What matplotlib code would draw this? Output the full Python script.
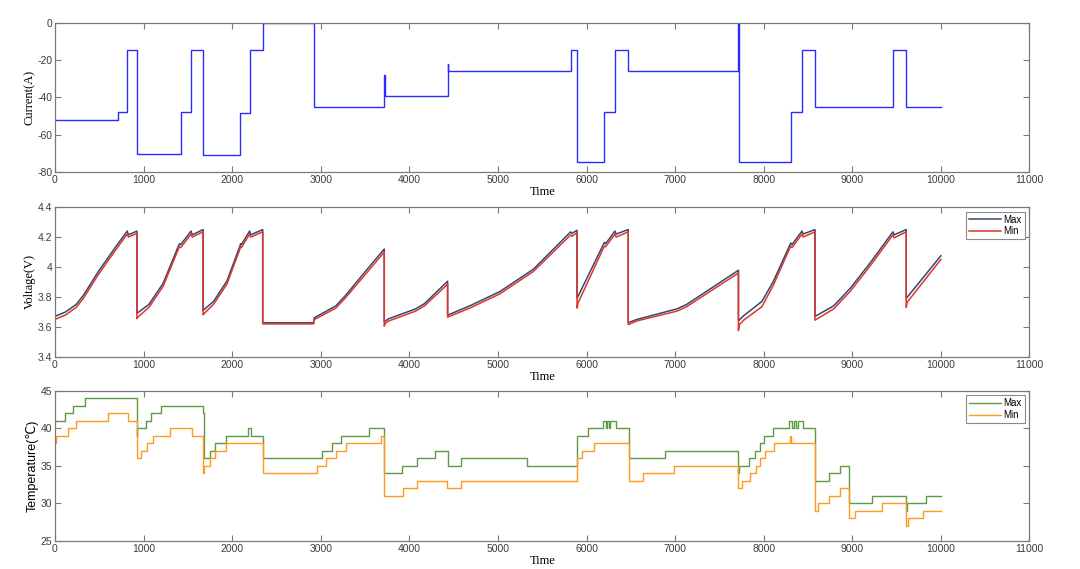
import numpy as np
import matplotlib
matplotlib.use("Agg")
import matplotlib.pyplot as plt

plt.rcParams["axes.unicode_minus"] = False

# ---- дані: струм (ступінчастий сигнал) ----
current_t = [0, 710, 816, 925, 1419, 1536, 1672, 2088, 2197, 2345, 2920,
             3717, 3722, 4432, 4437, 5822, 5893, 6202, 6321, 6471, 7715,
             7718, 8306, 8433, 8579, 9459, 9609, 10000]
current_a = [-52, -48, -14.5, -70.5, -48, -14.5, -71, -48.5, -14.5, 0, -45,
             -28, -39, -22, -26, -14.5, -74.5, -48, -14.5, -26, 0,
             -74.5, -48, -14.5, -45, -14.5, -45, -45]

# ---- напруга ----
vmax_t = [0, 120, 240, 320, 490, 680, 816, 830, 925, 925,
          1060, 1220, 1390, 1405, 1420, 1536, 1550, 1672, 1672,
          1790, 1940, 2088, 2095, 2105, 2197, 2210, 2345, 2345,
          2920, 2925, 3170, 3280, 3510, 3717, 3717,
          3770, 4070, 4170, 4432, 4432,
          4680, 5020, 5400, 5822, 5835, 5893, 5893,
          6190, 6202, 6215, 6321, 6335, 6471, 6471,
          6570, 7020, 7130, 7715, 7715,
          7775, 7980, 8110, 8290, 8306, 8320, 8433, 8445, 8579, 8579,
          8790, 8980, 9205, 9459, 9472, 9609, 9609, 10000]
vmax_v = [3.67, 3.70, 3.75, 3.81, 3.97, 4.13, 4.24, 4.215, 4.24, 3.69,
          3.75, 3.89, 4.135, 4.155, 4.15, 4.24, 4.215, 4.25, 3.71,
          3.77, 3.905, 4.14, 4.155, 4.15, 4.24, 4.215, 4.25, 3.627,
          3.627, 3.66, 3.74, 3.81, 3.975, 4.12, 3.635,
          3.655, 3.72, 3.755, 3.905, 3.678,
          3.74, 3.835, 3.985, 4.235, 4.225, 4.245, 3.79,
          4.15, 4.165, 4.155, 4.24, 4.22, 4.25, 3.628,
          3.65, 3.72, 3.75, 3.978, 3.64,
          3.675, 3.77, 3.905, 4.14, 4.16, 4.15, 4.24, 4.22, 4.25, 3.67,
          3.74, 3.86, 4.03, 4.235, 4.215, 4.25, 3.79, 4.075]

vmin_t = [0, 120, 240, 320, 490, 680, 816, 830, 925, 925, 935,
          1060, 1220, 1390, 1405, 1420, 1536, 1550, 1672, 1672, 1685,
          1790, 1940, 2088, 2095, 2105, 2197, 2210, 2345, 2345,
          2920, 2925, 3170, 3280, 3510, 3717, 3717, 3730,
          3770, 4070, 4170, 4432, 4432,
          4680, 5020, 5400, 5822, 5835, 5893, 5893, 5905,
          6190, 6202, 6215, 6321, 6335, 6471, 6471,
          6570, 7020, 7130, 7715, 7715, 7725,
          7775, 7980, 8110, 8290, 8306, 8320, 8433, 8445, 8579, 8579,
          8790, 8980, 9205, 9459, 9472, 9609, 9609, 9620, 10000]
vmin_v = [3.65, 3.68, 3.73, 3.79, 3.95, 4.11, 4.22, 4.20, 4.225, 3.655, 3.665,
          3.73, 3.87, 4.115, 4.135, 4.13, 4.22, 4.20, 4.235, 3.68, 3.69,
          3.75, 3.885, 4.12, 4.135, 4.13, 4.22, 4.20, 4.235, 3.62,
          3.62, 3.648, 3.725, 3.795, 3.955, 4.10, 3.605, 3.625,
          3.64, 3.705, 3.74, 3.885, 3.665,
          3.725, 3.82, 3.97, 4.215, 4.205, 4.23, 3.725, 3.76,
          4.125, 4.14, 4.135, 4.22, 4.20, 4.235, 3.615,
          3.64, 3.705, 3.735, 3.96, 3.575, 3.615,
          3.645, 3.735, 3.88, 4.12, 4.14, 4.13, 4.22, 4.20, 4.235, 3.645,
          3.72, 3.84, 4.01, 4.215, 4.195, 4.235, 3.73, 3.765, 4.05]

# ---- температура ----
tmax_t = [0, 109, 206, 338, 925, 930, 1022, 1089, 1198, 1672, 1682, 1750,
          1808, 1936, 2177, 2209, 2345, 3013, 3130, 3227, 3546, 3717, 3919,
          4083, 4285, 4432, 4580, 5327, 5893, 6020, 6186, 6220, 6235, 6255,
          6270, 6337, 6475, 6883, 7715, 7725, 7837, 7897, 7956, 8008, 8107,
          8281, 8325, 8340, 8365, 8385, 8447, 8577, 8732, 8859, 8962, 9227,
          9612, 9620, 9834, 10000]
tmax_c = [41, 42, 43, 44, 39, 40, 41, 42, 43, 42, 36, 37,
          38, 39, 40, 39, 36, 37, 38, 39, 40, 34, 35,
          36, 37, 35, 36, 35, 39, 40, 41, 40, 41, 40,
          41, 40, 36, 37, 34, 35, 36, 37, 38, 39, 40,
          41, 40, 41, 40, 41, 40, 33, 34, 35, 30, 31,
          29, 30, 31, 31]

tmin_t = [0, 10, 144, 241, 603, 828, 925, 972, 1042, 1108, 1299, 1544,
          1672, 1685, 1750, 1808, 1936, 2345, 2955, 3064, 3169, 3289, 3678,
          3717, 3927, 4090, 4425, 4588, 5893, 5948, 6087, 6475, 6642, 6990,
          7715, 7757, 7845, 7911, 7963, 8016, 8114, 8300, 8310, 8577, 8610,
          8740, 8859, 8962, 9029, 9338, 9612, 9625, 9794, 10000]
tmin_c = [38, 39, 40, 41, 42, 41, 36, 37, 38, 39, 40, 39,
          34, 35, 36, 37, 38, 34, 35, 36, 37, 38, 39,
          31, 32, 33, 32, 33, 36, 37, 38, 33, 34, 35,
          32, 33, 34, 35, 36, 37, 38, 39, 38, 29, 30,
          31, 32, 28, 29, 30, 27, 28, 29, 29]

serif = ["Liberation Serif", "DejaVu Serif"]
sans = ["Liberation Sans", "DejaVu Sans"]
axis_gray = "#7a7a7a"
tick_gray = "#3c3c3c"

fig = plt.figure(figsize=(10.8, 5.69), dpi=100)
ax1 = fig.add_axes([0.0509, 0.6974, 0.9023, 0.2627])
ax2 = fig.add_axes([0.0509, 0.3729, 0.9023, 0.2631])
ax3 = fig.add_axes([0.0509, 0.0496, 0.9023, 0.2633])


def style(ax):
    ax.set_xlim(0, 11000)
    ax.set_xticks(np.arange(0, 11001, 1000))
    ax.tick_params(direction="in", top=True, right=True, length=4,
                   width=0.8, color=axis_gray, labelsize=7.5,
                   labelcolor=tick_gray, pad=2)
    for lab in ax.get_xticklabels() + ax.get_yticklabels():
        lab.set_family(sans)
    for sp in ax.spines.values():
        sp.set_color(axis_gray)
        sp.set_linewidth(0.9)
    ax.set_xlabel("Time", family=serif, fontsize=9, labelpad=1)


# Струм
ax1.plot(current_t, current_a, drawstyle="steps-post", color="#2b2bff", lw=1.0)
ax1.set_ylim(-80, 0)
ax1.set_yticks(np.arange(-80, 1, 20))
style(ax1)
ax1.set_ylabel("Current(A)", family=serif, fontsize=9, labelpad=1)

# Напруга
ax2.plot(vmax_t, vmax_v, color="#2f4a6d", lw=1.1, label="Max")
ax2.plot(vmin_t, vmin_v, color="#e0332b", lw=1.1, label="Min")
ax2.set_ylim(3.4, 4.4)
ax2.set_yticks([3.4, 3.6, 3.8, 4.0, 4.2, 4.4])
ax2.set_yticklabels(["3.4", "3.6", "3.8", "4", "4.2", "4.4"])
style(ax2)
ax2.set_ylabel("Voltage(V)", family=serif, fontsize=9, labelpad=1)

# Температура
ax3.plot(tmax_t, tmax_c, drawstyle="steps-post", color="#5e9b44", lw=1.0, label="Max")
ax3.plot(tmin_t, tmin_c, drawstyle="steps-post", color="#ff9a1e", lw=1.0, label="Min")
ax3.set_ylim(25, 45)
ax3.set_yticks(np.arange(25, 46, 5))
style(ax3)
ax3.set_ylabel("Temperature(\u2103)", family=sans, fontsize=9, labelpad=1)

for ax in (ax2, ax3):
    leg = ax.legend(loc="upper right", bbox_to_anchor=(0.995, 0.97),
                    borderaxespad=0, fancybox=False, framealpha=1,
                    prop={"family": sans, "size": 7}, handlelength=3.2,
                    handletextpad=0.3, borderpad=0.3, labelspacing=0.2)
    leg.get_frame().set_edgecolor("#8a8a8a")
    leg.get_frame().set_linewidth(0.8)

fig.savefig("out.png", dpi=100)
